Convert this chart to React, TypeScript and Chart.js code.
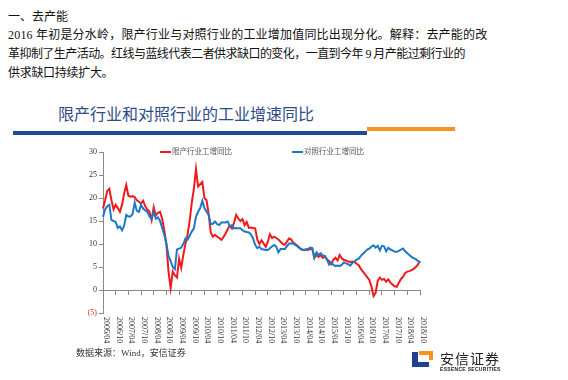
import React, { useEffect, useRef } from "react";
import { Chart, registerables } from "chart.js";

Chart.register(...registerables);

const SERIES_RED_NAME = "限产行业工增同比";
const SERIES_BLUE_NAME = "对照行业工增同比";

const RED: number[] = [
  17.7, 19.5, 21.5, 22.0, 19.5, 17.5, 18.5, 17.8, 17.0, 18.5,
  21.0, 22.8, 20.5, 20.3, 20.4, 20.2, 19.5, 19.2, 18.8, 19.4,
  18.2, 17.5, 17.0, 15.2, 18.0, 16.2, 16.8, 17.0, 15.5, 13.0,
  10.0, 4.0, 0.4, 4.0, 3.2, 2.7, 6.8, 4.8, 7.6, 10.0,
  12.0, 15.0, 19.0, 22.0, 26.3, 22.5, 23.0, 23.5, 20.0, 19.5,
  16.5, 12.5, 11.6, 12.0, 11.6, 11.3, 10.9, 11.5, 12.3, 13.2,
  14.0, 13.4, 14.6, 16.3, 15.6, 15.0, 15.4, 14.1, 14.8, 13.5,
  13.6, 13.5, 13.4, 11.0, 10.0, 10.8, 10.1, 9.4, 10.5, 12.1,
  11.3, 11.6, 11.3, 11.0, 10.5, 10.0, 9.8, 10.5, 11.2, 11.0,
  10.3, 10.0, 9.6, 9.2, 8.8, 8.7, 8.8, 8.7, 8.9, 9.0,
  7.0, 7.6, 7.2, 7.6, 7.0, 7.3, 6.6, 6.3, 5.6, 6.6,
  7.0, 6.4, 7.6, 6.9, 6.5, 6.4, 6.2, 6.1, 6.2, 6.1,
  5.7, 5.4, 4.6, 4.0, 3.4, 2.8, 2.2, 0.8, -1.3, -0.6,
  2.0, 2.7, 2.2, 2.4, 1.8, 2.3, 1.6, 1.2, 0.8, 0.7,
  1.6, 2.4, 2.9, 3.7, 4.0, 4.1, 4.3, 4.6, 5.0, 5.5,
  6.3,
];

const BLUE: number[] = [
  15.9, 17.5, 18.2, 18.5, 15.2, 15.0, 14.8, 13.5, 13.8, 13.0,
  14.0, 16.3, 16.0, 16.0, 16.5, 19.0, 17.2, 17.0, 18.5, 17.7,
  17.3, 17.0, 16.0, 15.5, 17.0, 15.5, 15.8, 15.0, 13.5, 12.0,
  10.0, 7.5, 6.3, 5.0, 4.5, 8.8, 9.0, 9.2, 10.0, 11.2,
  10.9, 11.8, 12.7, 13.4, 15.9, 17.0, 17.8, 19.4, 17.8, 17.0,
  16.3, 14.3, 14.4, 14.9, 14.3, 14.1, 14.7, 14.7, 14.7, 14.9,
  13.8, 14.1, 13.4, 13.5, 13.4, 13.4, 13.0, 12.7, 12.6, 12.5,
  12.1, 11.2, 9.8, 9.1, 9.4, 8.9, 8.8, 8.7, 8.7, 9.1,
  9.5, 9.8, 9.4, 8.2, 8.9, 8.9, 8.9, 9.5, 10.1, 10.1,
  10.1, 9.8, 9.5, 9.1, 8.8, 8.7, 8.8, 8.9, 9.2, 9.1,
  7.0, 8.2, 7.7, 8.0, 7.5, 7.4, 6.6, 5.5, 6.0, 5.5,
  5.2, 5.3, 5.2, 5.5, 6.0, 5.8, 5.6, 5.3, 5.9, 6.2,
  6.6, 6.8, 7.4, 7.9, 8.3, 8.8, 9.0, 9.4, 9.7, 9.2,
  9.6, 8.6, 9.6, 9.5, 8.4, 9.2, 8.8, 8.6, 8.3, 8.3,
  8.5, 8.8, 9.0, 8.4, 8.0, 7.6, 7.2, 6.9, 6.7, 6.3,
  5.9,
];

const START_YEAR = 2006;
const START_MONTH = 4;
const MONTHS: string[] = RED.map((_, i) => {
  const t = START_MONTH - 1 + i;
  const y = START_YEAR + Math.floor(t / 12);
  const m = (t % 12) + 1;
  return `${y}/${m < 10 ? "0" + m : m}`;
});

const TICK_LABELS: string[] = [
  "2006/04", "2006/10", "2007/04", "2007/10", "2008/04", "2008/10",
  "2009/04", "2009/10", "2010/04", "2010/10", "2011/04", "2011/10",
  "2012/04", "2012/10", "2013/04", "2013/10", "2014/04", "2014/10",
  "2015/04", "2015/10", "2016/04", "2016/10", "2017/04", "2017/10",
  "2018/04", "2018/10",
];

const Y_MIN = -5;
const Y_MAX = 30;
const Y_STEP = 5;

const RED_COLOR = "#F01A1A";
const BLUE_COLOR = "#1F78C6";

const xLabelPlugin = {
  id: "xLabelsRotated",
  afterDraw(chart: any) {
    const { ctx, chartArea } = chart;
    const x = chart.scales.x;
    ctx.save();
    ctx.font = '8px "Liberation Serif"';
    ctx.fillStyle = "#333";
    ctx.textAlign = "left";
    ctx.textBaseline = "middle";
    TICK_LABELS.forEach((lab) => {
      const idx = MONTHS.indexOf(lab);
      if (idx < 0) return;
      const px = x.getPixelForValue(idx);
      ctx.save();
      ctx.translate(px + 3, chartArea.bottom + 4);
      ctx.rotate(Math.PI / 2);
      ctx.fillText(lab, 0, 0);
      ctx.restore();
    });
    ctx.restore();
  },
};

function ChartBox() {
  const ref = useRef<HTMLCanvasElement | null>(null);
  useEffect(() => {
    if (!ref.current) return;
    const chart = new Chart(ref.current, {
      type: "line",
      data: {
        labels: MONTHS,
        datasets: [
          {
            label: SERIES_RED_NAME,
            data: RED,
            borderColor: RED_COLOR,
            backgroundColor: RED_COLOR,
            borderWidth: 2,
            pointRadius: 0,
            tension: 0,
            order: 1,
          },
          {
            label: SERIES_BLUE_NAME,
            data: BLUE,
            borderColor: BLUE_COLOR,
            backgroundColor: BLUE_COLOR,
            borderWidth: 2,
            pointRadius: 0,
            tension: 0,
            order: 0,
          },
        ],
      },
      options: {
        animation: false,
        responsive: false,
        maintainAspectRatio: false,
        layout: { padding: { top: 12, right: 20, bottom: 37, left: 0 } },
        plugins: {
          legend: { display: false },
          tooltip: { enabled: false },
        },
        scales: {
          x: {
            type: "category",
            position: { y: 0 } as any,
            offset: false,
            ticks: { display: false },
            grid: {
              drawOnChartArea: false,
              tickLength: 4,
              color: (c: any) => (c.index % 6 === 0 ? "#8a8a8a" : "rgba(0,0,0,0)"),
            },
            border: { color: "#8a8a8a", width: 1 },
          },
          y: {
            min: Y_MIN,
            max: Y_MAX,
            afterFit: (scale: any) => {
              scale.width = 43;
            },
            ticks: {
              stepSize: Y_STEP,
              padding: 2,
              font: { family: "Liberation Serif", size: 8 },
              color: (c: any) => (c.tick && c.tick.value < 0 ? "#E03030" : "#333"),
              callback: (v: any) => (Number(v) < 0 ? `(${-Number(v)})` : `${v}`),
            },
            grid: { drawOnChartArea: false, tickLength: 4, color: "#8a8a8a" },
            border: { color: "#8a8a8a", width: 1 },
          },
        },
      },
      plugins: [xLabelPlugin],
    });
    return () => chart.destroy();
  }, []);
  return (
    <canvas
      ref={ref}
      width={380}
      height={210}
      style={{ position: "absolute", left: 60, top: 140, width: 380, height: 210 }}
    />
  );
}

const abs = (o: React.CSSProperties): React.CSSProperties => ({
  position: "absolute",
  whiteSpace: "nowrap",
  ...o,
});

const BODY_FONT = '"Liberation Serif", "Noto Sans CJK SC", serif';
const CJK_FONT = '"Noto Sans CJK SC", sans-serif';

export default function App() {
  return (
    <div
      style={{
        position: "absolute",
        left: 0,
        top: 0,
        width: 568,
        height: 380,
        background: "#fff",
        overflow: "hidden",
        color: "#111",
      }}
    >
      <div style={abs({ left: 8, top: 8, fontSize: 12, lineHeight: "18px", fontFamily: BODY_FONT })}>
        一、去产能
      </div>
      <div style={abs({ left: 8, top: 26, fontSize: 12, lineHeight: "18px", fontFamily: BODY_FONT, letterSpacing: 0.2 })}>
        2016 年初是分水岭，限产行业与对照行业的工业增加值同比出现分化。解释：去产能的改
      </div>
      <div style={abs({ left: 8, top: 45, fontSize: 12, lineHeight: "18px", fontFamily: BODY_FONT, letterSpacing: -0.55 })}>
        革抑制了生产活动。红线与蓝线代表二者供求缺口的变化，一直到今年 9 月产能过剩行业的
      </div>
      <div style={abs({ left: 8, top: 64, fontSize: 12, lineHeight: "18px", fontFamily: BODY_FONT, letterSpacing: -0.3 })}>
        供求缺口持续扩大。
      </div>

      <div style={abs({ left: 58, top: 102, fontSize: 16, lineHeight: "22px", fontFamily: CJK_FONT, color: "#2D4B88" })}>
        限产行业和对照行业的工业增速同比
      </div>
      <div style={abs({ left: 13, top: 131, width: 354, height: 4, background: "#1E4C8E" })} />
      <div style={abs({ left: 367, top: 127, width: 88, height: 4, background: "#F7941D" })} />

      <ChartBox />

      <div style={abs({ left: 160, top: 151, width: 11, height: 2, background: RED_COLOR })} />
      <div style={abs({ left: 172, top: 147, fontSize: 7.5, lineHeight: "10px", fontFamily: BODY_FONT, color: "#555" })}>
        {SERIES_RED_NAME}
      </div>
      <div style={abs({ left: 292, top: 151, width: 11, height: 2, background: BLUE_COLOR })} />
      <div style={abs({ left: 304, top: 147, fontSize: 7.5, lineHeight: "10px", fontFamily: BODY_FONT, color: "#555" })}>
        {SERIES_BLUE_NAME}
      </div>

      <div style={abs({ left: 76, top: 347, fontSize: 9, lineHeight: "12px", fontFamily: BODY_FONT, color: "#333" })}>
        数据来源：Wind，安信证券
      </div>

      <div style={abs({ left: 412, top: 352, width: 6, height: 15, background: "#1F3F8F" })} />
      <div style={abs({ left: 412, top: 362, width: 17, height: 5, background: "#1F3F8F" })} />
      <div style={abs({ left: 419, top: 351, width: 14, height: 4, background: "#F7941D" })} />
      <div style={abs({ left: 429, top: 351, width: 4, height: 9, background: "#F7941D" })} />
      <div style={abs({ left: 440, top: 349, fontSize: 14, lineHeight: "18px", fontFamily: CJK_FONT, color: "#222", letterSpacing: 1 })}>
        安信证券
      </div>
      <div style={abs({ left: 440, top: 366, fontSize: 5, lineHeight: "6px", fontFamily: '"Liberation Sans", sans-serif', fontWeight: 700, color: "#222", letterSpacing: 0.3 })}>
        ESSENCE SECURITIES
      </div>
    </div>
  );
}
